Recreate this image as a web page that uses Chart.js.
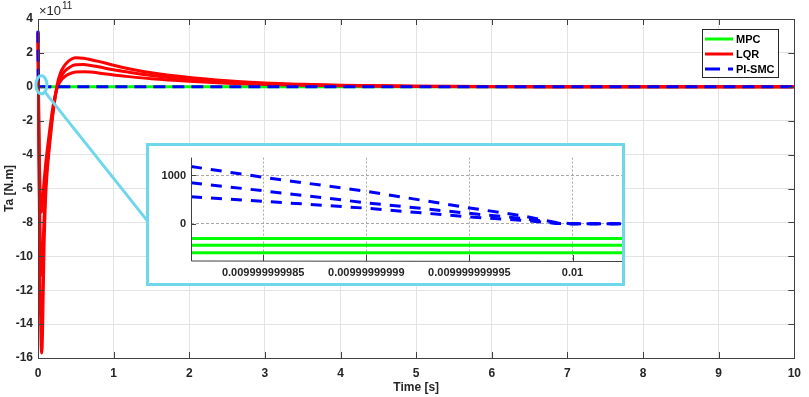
<!DOCTYPE html>
<html><head><meta charset="utf-8">
<script src="https://cdn.jsdelivr.net/npm/chart.js@4.4.0/dist/chart.umd.min.js"></script>
<style>
html,body{margin:0;padding:0;background:#fff;}
#wrap{position:relative;width:809px;height:397px;overflow:hidden;}
#main{position:absolute;left:0;top:0;}
#insetBox{position:absolute;left:146px;top:143px;width:479px;height:143px;border:3px solid #6fd7ea;box-sizing:border-box;background:#fff;}
#inset{position:absolute;left:0;top:0;}
</style></head><body>
<div id="wrap">
<canvas id="main" width="809" height="397"></canvas>
<div id="insetBox"><canvas id="inset" width="473" height="137"></canvas></div>
</div>
<script>
// ---------- main plot data (Ta in units of 1e11 N.m) ----------
const time = [0, 0.005, 0.01, 0.02, 0.03, 0.04, 0.05, 0.06, 0.07, 0.08, 0.1, 0.12, 0.15, 0.18, 0.2, 0.25, 0.3, 0.35, 0.4, 0.5, 0.6, 0.7, 0.8, 1.0, 1.2, 1.5, 2.0, 2.5, 3.0, 3.5, 4.0, 5.0, 6.0, 7.0, 8.0, 9.0, 10.0];
const lqr1 = [3.2, 0.5, -3, -8, -12.5, -15, -15.7, -14.5, -12, -9.5, -6.6, -5.1, -3.6, -2.3, -1.5, 0.05, 0.85, 1.25, 1.5, 1.71, 1.69, 1.6, 1.5, 1.27, 1.07, 0.83, 0.55, 0.36, 0.23, 0.15, 0.09, 0.035, 0.013, 0.005, 0.002, 0, 0];
const lqr2 = [3.2, 0.6, -2.5, -6.5, -9.5, -10.9, -11.1, -10.2, -9, -7.8, -5.9, -4.7, -3.3, -2.1, -1.4, -0.1, 0.55, 0.9, 1.1, 1.3, 1.31, 1.26, 1.18, 1.0, 0.86, 0.67, 0.45, 0.3, 0.19, 0.12, 0.075, 0.03, 0.011, 0.004, 0.0015, 0, 0];
const lqr3 = [3.2, 0.8, -1.8, -4.8, -6.6, -7.4, -7.3, -6.8, -6.2, -5.6, -4.6, -3.8, -2.7, -1.7, -1.1, -0.1, 0.35, 0.58, 0.73, 0.88, 0.89, 0.87, 0.82, 0.7, 0.6, 0.47, 0.32, 0.21, 0.14, 0.09, 0.055, 0.02, 0.008, 0.003, 0.001, 0, 0];
const mpc = [0, 0, 0, 0, 0, 0, 0, 0, 0, 0, 0, 0, 0, 0, 0, 0, 0, 0, 0, 0, 0, 0, 0, 0, 0, 0, 0, 0, 0, 0, 0, 0, 0, 0, 0, 0, 0];
const smcTime = [0, 0.004, 10];
const pismc = [3.3, 0, 0];
const xTicks = [0, 1, 2, 3, 4, 5, 6, 7, 8, 9, 10];
const yTicks = [-16, -14, -12, -10, -8, -6, -4, -2, 0, 2, 4];

// ---------- inset data (Ta in N.m) ----------
const insetTime = [0.0099999999815, 0.009999999985, 0.00999999999, 0.009999999995, 0.0099999999975, 0.0099999999992, 0.01, 0.0100000000024];
const insetSmc1 = [1186, 963, 672, 329, 170, 25, 0, 0];
const insetSmc2 = [851, 683, 435, 216, 115, 15, 0, 0];
const insetSmc3 = [558, 466, 323, 142, 75, 8, 0, 0];
const insetMpc1 = [-306, -306, -306, -306, -306, -306, -306, -306];
const insetMpc2 = [-442, -442, -442, -442, -442, -442, -442, -442];
const insetMpc3 = [-597, -597, -597, -597, -597, -597, -597, -597];
const insetXTicks = [0.009999999985, 0.00999999999, 0.009999999995, 0.01];
const insetXLabels = ['0.009999999985', '0.00999999999', '0.009999999995', '0.01'];
const insetYTicks = [0, 1000];

const GREEN = '#00ff00', RED = '#ff0000', BLUE = '#0000ff', CYAN = '#6fd7ea';
const FONT = "'Liberation Sans', Arial, Helvetica, sans-serif";
Chart.defaults.font.family = FONT;
Chart.defaults.color = '#262626';

const pts = (xs, ys) => xs.map((x, i) => ({x: x, y: ys[i]}));

function ds(label, xs, ys, color, dash, order, legend) {
  return {label: label, data: pts(xs, ys), borderColor: color, backgroundColor: color,
    borderWidth: 3, borderDash: dash || [], pointRadius: 0, fill: false,
    tension: 0, order: order, showInLegend: legend, clip: 3};
}

const mainDatasets = [
  ds('MPC', time, mpc, GREEN, [], 3, true),
  Object.assign(ds('LQR', time, lqr1, RED, [], 2, true), {cubicInterpolationMode: 'monotone'}),
  Object.assign(ds('LQR', time, lqr2, RED, [], 2, false), {cubicInterpolationMode: 'monotone'}),
  Object.assign(ds('LQR', time, lqr3, RED, [], 2, false), {cubicInterpolationMode: 'monotone'}),
  ds('PI-SMC', smcTime, pismc, BLUE, [12, 7], 1, true)
];

const AXIS = '#404040';

const mainDecor = {
  id: 'mainDecor',
  afterDraw(chart) {
    const ctx = chart.ctx, a = chart.chartArea, xs = chart.scales.x, ys = chart.scales.y;
    ctx.save();
    // box
    ctx.strokeStyle = AXIS; ctx.lineWidth = 1;
    ctx.strokeRect(Math.round(a.left) + 0.5, Math.round(a.top) + 0.5, Math.round(a.right - a.left), Math.round(a.bottom - a.top));
    // inward ticks
    ctx.beginPath();
    xTicks.forEach(v => {
      const p = Math.round(xs.getPixelForValue(v)) + 0.5;
      ctx.moveTo(p, a.bottom); ctx.lineTo(p, a.bottom - 6);
      ctx.moveTo(p, a.top); ctx.lineTo(p, a.top + 6);
    });
    yTicks.forEach(v => {
      const p = Math.round(ys.getPixelForValue(v)) + 0.5;
      ctx.moveTo(a.left, p); ctx.lineTo(a.left + 6, p);
      ctx.moveTo(a.right, p); ctx.lineTo(a.right - 6, p);
    });
    ctx.stroke();
    // exponent label
    ctx.fillStyle = '#262626'; ctx.textBaseline = 'alphabetic'; ctx.textAlign = 'left';
    ctx.font = '13px ' + FONT;
    const base = '\u00d710';
    ctx.fillText(base, 39, 15);
    const bw = ctx.measureText(base).width;
    ctx.font = '10px ' + FONT;
    ctx.fillText('11', 39 + bw + 1, 9);
    // zoom ellipse + connector
    const cx = xs.getPixelForValue(0.045), cy = ys.getPixelForValue(0.12);
    ctx.strokeStyle = CYAN; ctx.lineWidth = 3;
    ctx.beginPath(); ctx.ellipse(cx, cy, 5.5, 9, 0, 0, Math.PI * 2); ctx.stroke();
    const box = document.getElementById('insetBox');
    const ang = 0.9;
    ctx.beginPath();
    ctx.moveTo(cx + 5.5 * Math.cos(ang), cy + 9 * Math.sin(ang));
    ctx.lineTo(box.offsetLeft + 2, box.offsetTop + box.offsetHeight * 0.55);
    ctx.stroke();
    // legend
    const lx = 702, ly = 29, lw = 76, lh = 48;
    ctx.fillStyle = '#fff'; ctx.fillRect(lx, ly, lw, lh);
    ctx.strokeStyle = '#262626'; ctx.lineWidth = 1;
    ctx.strokeRect(lx + 0.5, ly + 0.5, lw, lh);
    const entries = chart.data.datasets.filter(d => d.showInLegend);
    const rows = [39, 54, 69];
    entries.forEach((d, i) => {
      const y = rows[i];
      ctx.strokeStyle = d.borderColor; ctx.lineWidth = 3;
      ctx.setLineDash(d.borderDash && d.borderDash.length ? [15, 8] : []);
      ctx.beginPath(); ctx.moveTo(705, y); ctx.lineTo(733, y); ctx.stroke();
      ctx.setLineDash([]);
      ctx.fillStyle = '#000'; ctx.font = 'bold 11px ' + FONT; ctx.textBaseline = 'middle';
      ctx.fillText(d.label, 736, y + 0.5);
    });
    ctx.restore();
  }
};

new Chart(document.getElementById('main'), {
  type: 'line',
  data: {datasets: mainDatasets},
  options: {
    responsive: false, animation: false, devicePixelRatio: 1,
    layout: {padding: {top: 19, right: 8, left: 0, bottom: 0}},
    plugins: {legend: {display: false}, tooltip: {enabled: false}},
    scales: {
      x: {
        type: 'linear', min: 0, max: 10,
        afterBuildTicks: s => { s.ticks = xTicks.map(v => ({value: v})); },
        afterFit: s => { s.height = 39; },
        ticks: {font: {size: 12, weight: 'bold'}, color: '#262626', padding: 8, maxRotation: 0, callback: v => String(v)},
        grid: {color: '#e3e3e3', drawTicks: false},
        border: {color: AXIS},
        title: {display: true, text: 'Time [s]', font: {size: 12, weight: 'bold'}, color: '#262626', padding: {top: 0, bottom: 2}}
      },
      y: {
        type: 'linear', min: -16, max: 4,
        afterBuildTicks: s => { s.ticks = yTicks.map(v => ({value: v})); },
        afterFit: s => { s.width = 38; },
        ticks: {font: {size: 12, weight: 'bold'}, color: '#262626', padding: 5, callback: v => String(v)},
        grid: {color: '#e3e3e3', drawTicks: false},
        border: {color: AXIS},
        title: {display: true, text: 'Ta [N.m]', font: {size: 12, weight: 'bold'}, color: '#262626', padding: {top: 2, bottom: 0}}
      }
    }
  },
  plugins: [mainDecor]
});

// ---------- inset ----------
const insetDecor = {
  id: 'insetDecor',
  beforeDraw(chart) {
    const ctx = chart.ctx;
    ctx.save(); ctx.fillStyle = '#fff'; ctx.fillRect(0, 0, chart.width, chart.height); ctx.restore();
  },
  afterDraw(chart) {
    const ctx = chart.ctx, a = chart.chartArea, xs = chart.scales.x, ys = chart.scales.y;
    ctx.save();
    ctx.strokeStyle = AXIS; ctx.lineWidth = 1;
    ctx.beginPath();
    ctx.moveTo(Math.round(a.left) + 0.5, a.top); ctx.lineTo(Math.round(a.left) + 0.5, a.bottom);
    ctx.lineTo(a.right, Math.round(a.bottom) + 0.5);
    insetXTicks.forEach(v => {
      const p = Math.round(xs.getPixelForValue(v)) + 0.5;
      ctx.moveTo(p, a.bottom); ctx.lineTo(p, a.bottom - 6);
    });
    insetYTicks.forEach(v => {
      const p = Math.round(ys.getPixelForValue(v)) + 0.5;
      ctx.moveTo(a.left, p); ctx.lineTo(a.left + 5, p);
    });
    ctx.stroke();
    ctx.restore();
  }
};

const insetDatasets = [
  ds('MPC', insetTime, insetMpc1, GREEN, [], 2),
  ds('MPC', insetTime, insetMpc2, GREEN, [], 2),
  ds('MPC', insetTime, insetMpc3, GREEN, [], 2),
  ds('PI-SMC', insetTime, insetSmc1, BLUE, [11, 9], 1),
  ds('PI-SMC', insetTime, insetSmc2, BLUE, [11, 9], 1),
  ds('PI-SMC', insetTime, insetSmc3, BLUE, [11, 9], 1)
];

new Chart(document.getElementById('inset'), {
  type: 'line',
  data: {datasets: insetDatasets},
  options: {
    responsive: false, animation: false, devicePixelRatio: 1,
    layout: {padding: {top: 0, right: 0, left: 0, bottom: 0}},
    plugins: {legend: {display: false}, tooltip: {enabled: false}},
    scales: {
      x: {
        type: 'linear', min: insetTime[0], max: insetTime[insetTime.length - 1],
        afterBuildTicks: s => { s.ticks = insetXTicks.map(v => ({value: v})); },
        afterFit: s => { s.height = 22; },
        ticks: {font: {size: 11, weight: 'bold'}, color: '#262626', padding: 5, maxRotation: 0, autoSkip: false,
          callback: (v, i) => insetXLabels[i]},
        grid: {color: '#a8a8a8', drawTicks: false},
        border: {display: false, dash: [2, 2]},
        title: {display: false}
      },
      y: {
        type: 'linear', min: -770, max: 1370,
        afterBuildTicks: s => { s.ticks = insetYTicks.map(v => ({value: v})); },
        afterFit: s => { s.width = 42; },
        ticks: {font: {size: 11, weight: 'bold'}, color: '#262626', padding: 5, callback: v => String(v)},
        grid: {color: '#a8a8a8', drawTicks: false},
        border: {display: false, dash: [3, 2]}
      }
    }
  },
  plugins: [insetDecor]
});
</script>
</body></html>
